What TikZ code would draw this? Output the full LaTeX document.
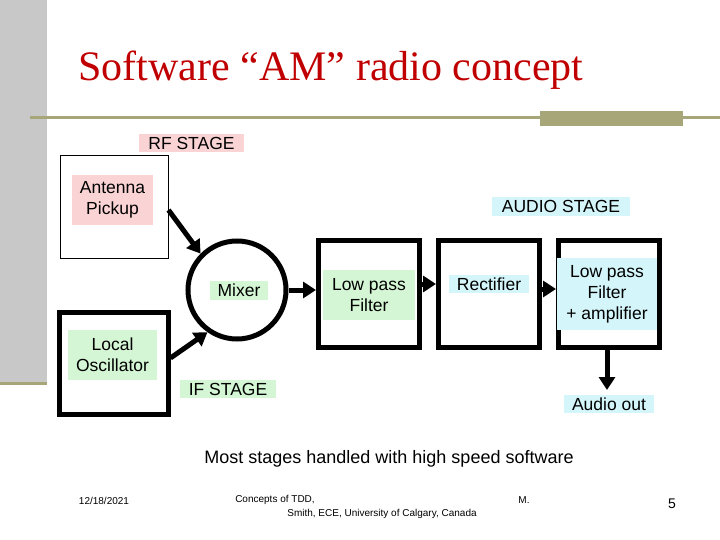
\documentclass[tikz,border=0pt]{standalone}
\usepackage{fontspec}
\setmainfont{Liberation Sans}
\newfontfamily\titlefont{Liberation Serif}
\definecolor{pinkbg}{RGB}{250,212,212}
\definecolor{greenbg}{RGB}{212,246,212}
\definecolor{bluebg}{RGB}{212,246,250}
\definecolor{olive}{RGB}{166,166,120}
\definecolor{bandgray}{RGB}{200,200,200}
\definecolor{titlered}{RGB}{192,0,0}
\tikzset{
  lbl/.style={inner sep=3pt, align=center, font=\fontsize{17.5}{21}\selectfont},
  thick box/.style={draw, line width=5pt, minimum width=101pt, minimum height=107pt},
  flow/.style={line width=5pt, -{Triangle[length=13pt,width=16pt]}},
}
\usetikzlibrary{arrows.meta}
\begin{document}
\begin{tikzpicture}[x=1pt,y=-1pt]
  \useasboundingbox (0,0) rectangle (720,540);
  % slide decoration
  \fill[bandgray] (0,0) rectangle (47,385);
  \fill[olive] (30,116) rectangle (720,119);
  \fill[olive] (540,111) rectangle (683,126);
  \fill[olive] (0,382) rectangle (47,385);
  \node[text=titlered, font=\titlefont\fontsize{42}{46}\selectfont] (title) at (331,70) {Software “AM” radio concept};

  % boxes
  \node[draw, line width=1pt, minimum width=108pt, minimum height=102pt] (antbox) at (114,207) {};
  \node[thick box, minimum width=109pt, minimum height=102pt] (lo) at (113.5,363) {};
  \node[draw, circle, line width=5pt, minimum size=98pt] (mixer) at (237,290) {};
  \node[thick box] (lpf) at (369,294) {};
  \node[thick box] (rect) at (489,294) {};
  \node[thick box] (amp) at (609,294) {};
  \coordinate (aout) at (607,390);

  % labels
  \node[lbl, fill=pinkbg, minimum width=105pt] (rf) at (191.5,143) {RF STAGE};
  \node[lbl, fill=pinkbg, minimum width=81pt, minimum height=50pt] (ant) at (112.5,200) {Antenna\\Pickup};
  \node[lbl, fill=greenbg, minimum width=58pt] (mixl) at (239,290.5) {Mixer};
  \node[lbl, fill=greenbg, minimum width=89pt, minimum height=50pt] (lol) at (112.5,355) {Local\\Oscillator};
  \node[lbl, fill=greenbg, minimum width=96pt] (if) at (228,389) {IF STAGE};
  \node[lbl, fill=greenbg, minimum width=92pt, minimum height=50pt] (lpfl) at (369,295) {Low pass\\Filter};
  \node[lbl, fill=bluebg, minimum width=80pt] (rectl) at (489,284) {Rectifier};
  \node[lbl, fill=bluebg, minimum width=100pt, minimum height=72pt] (ampl) at (607,294) {Low pass\\Filter\\+ amplifier};
  \node[lbl, fill=bluebg, minimum width=138pt] (audio) at (561,206.5) {AUDIO STAGE};
  \node[lbl, fill=bluebg, minimum width=90pt] (aoutl) at (609,404) {Audio out};

  % connectors
  \draw[flow] (antbox.east |- 0,210) -- (mixer.135);
  \draw[flow] (lo.east |- 0,358) -- (mixer.235);
  \draw[flow] (mixer.east) -- (lpf.west |- mixer.east);
  \draw[flow] (lpf.east |- rectl) -- (rect.west |- rectl);
  \draw[flow] (rect.east |- 0,289) -- (amp.west |- 0,289);
  \draw[flow] (amp.south -| aout) -- (aout);

  % texts
  \node[font=\fontsize{18}{21}\selectfont] (note) at (389,459) {Most stages handled with high speed software};
  \node[font=\fontsize{10}{12}\selectfont] (date) at (104,501) {12/18/2021};
  \node[font=\fontsize{10}{12}\selectfont] (f1) at (275,500) {Concepts of TDD,};
  \node[font=\fontsize{10}{12}\selectfont] (f2) at (382,514) {Smith, ECE, University of Calgary, Canada};
  \node[font=\fontsize{10}{12}\selectfont] (f3) at (524,500) {M.};
  \node[font=\fontsize{14}{16}\selectfont] (page) at (672,504) {5};
\end{tikzpicture}
\end{document}
